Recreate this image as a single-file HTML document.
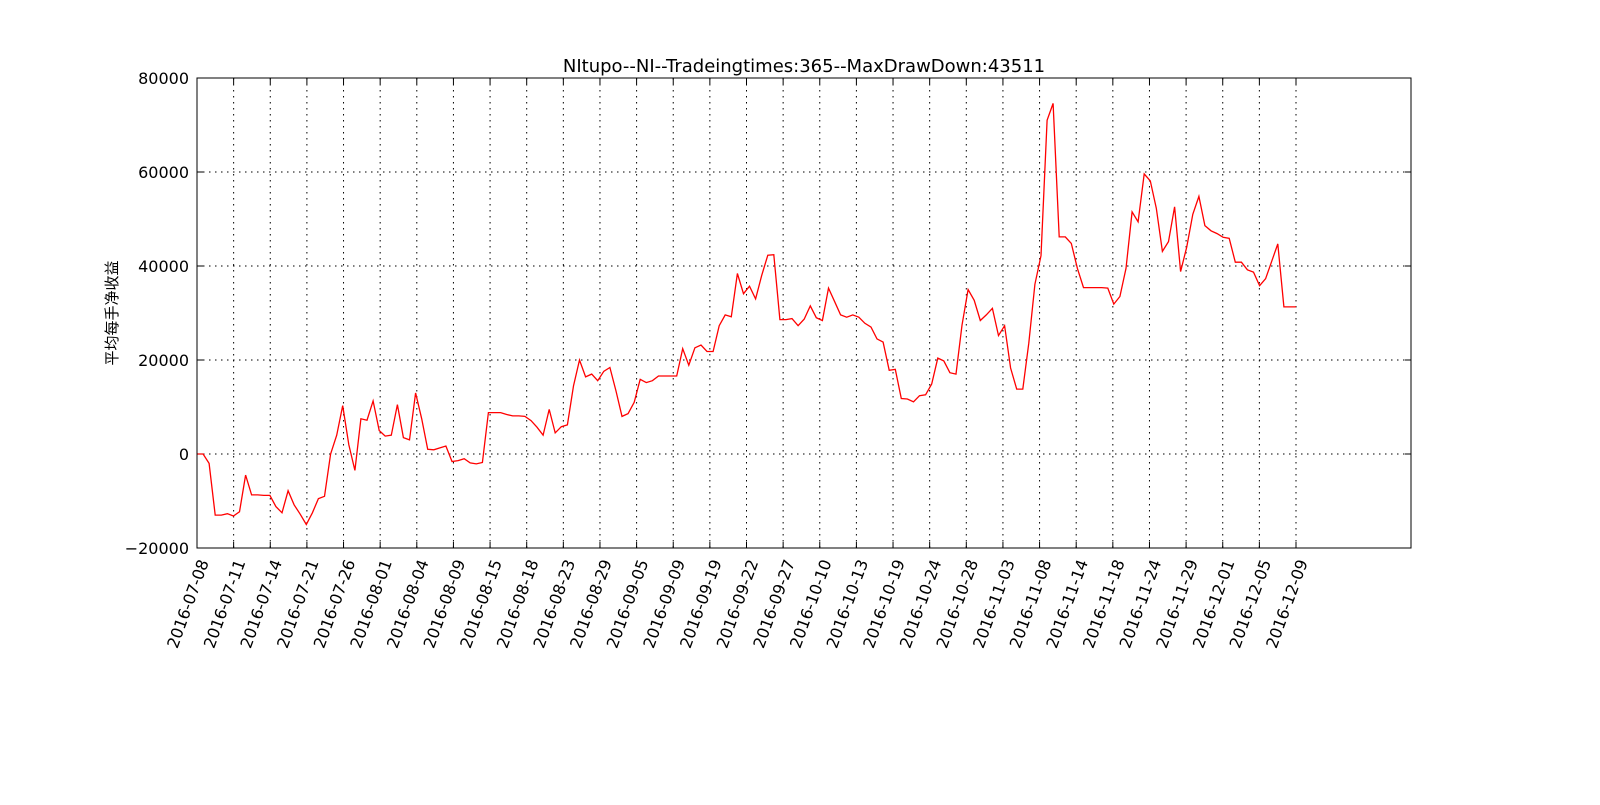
<!DOCTYPE html>
<html><head><meta charset="utf-8"><style>
body{margin:0;background:#fff;}
svg text{font-family:"DejaVu Sans","Liberation Sans","Noto Sans CJK SC",sans-serif;}
</style></head><body>
<svg id="chart" width="1600" height="800" xmlns="http://www.w3.org/2000/svg">
<rect width="1600" height="800" fill="#fff"/>
<text x="804" y="72" font-size="18" text-anchor="middle">NItupo--NI--Tradeingtimes:365--MaxDrawDown:43511</text>
<g id="grid"></g>
<g id="ticks"></g>
<polyline id="line" fill="none" stroke="#ff0000" stroke-width="1.3"/>
<rect x="197" y="78" width="1214" height="470" fill="none" stroke="#000" stroke-width="1"/>
<text transform="translate(117,313) rotate(-90)" font-size="15" text-anchor="middle" style="font-family:'Noto Sans CJK SC',sans-serif">平均每手净收益</text>
</svg>
<script>
const values = [0,0,-2,-13,-13,-12.7,-13.2,-12.3,-4.5,-8.7,-8.7,-8.8,-8.8,-11.2,-12.5,-7.8,-10.8,-12.8,-15,-12.5,-9.5,-9,0,4,10.3,2,-3.5,7.5,7.2,11.3,5,3.8,4,10.5,3.5,3,13,7.5,1,0.9,1.3,1.7,-1.6,-1.4,-1,-1.9,-2.1,-1.8,8.8,8.8,8.8,8.4,8.1,8.1,8,7.1,5.7,4,9.5,4.5,5.8,6.2,14.5,20,16.4,17,15.6,17.6,18.4,13.4,8,8.6,11,15.9,15.2,15.6,16.6,16.6,16.6,16.6,22.4,18.9,22.6,23.2,21.8,21.8,27.3,29.6,29.2,38.4,34.1,35.7,33,38,42.3,42.4,28.6,28.6,28.8,27.3,28.7,31.5,29,28.4,35.3,32.5,29.6,29.1,29.6,29.1,27.8,27,24.5,23.8,17.8,18,11.8,11.7,11.1,12.4,12.6,14.9,20.4,19.8,17.3,17,27.4,35,32.7,28.4,29.6,31,25.2,27.3,18.3,13.8,13.8,23.6,36.1,42.2,71,74.6,46.2,46.2,44.8,39.5,35.4,35.4,35.4,35.4,35.3,31.9,33.5,39.5,51.5,49.4,59.6,58.1,52.3,43.1,45.2,52.6,38.8,44,51,54.8,48.6,47.5,46.9,46.1,45.9,40.8,40.8,39.2,38.7,35.8,37.3,41,44.7,31.3,31.3,31.3];
const yTicks = [-20000,0,20000,40000,60000,80000];
const xLabels = ["2016-07-08","2016-07-11","2016-07-14","2016-07-21","2016-07-26","2016-08-01","2016-08-04","2016-08-09","2016-08-15","2016-08-18","2016-08-23","2016-08-29","2016-09-05","2016-09-09","2016-09-19","2016-09-22","2016-09-27","2016-10-10","2016-10-13","2016-10-19","2016-10-24","2016-10-28","2016-11-03","2016-11-08","2016-11-14","2016-11-18","2016-11-24","2016-11-29","2016-12-01","2016-12-05","2016-12-09"];
const X0=197,X1=1411,Y0=548,Y1=78;
const n=values.length-1;
const sx=i=>X0+i*(1099/n);
const sy=v=>Y0-(v*1000+20000)/100000*(Y0-Y1);
const NS="http://www.w3.org/2000/svg";
const grid=document.getElementById('grid'), ticks=document.getElementById('ticks');
function mk(t,a,p){const e=document.createElementNS(NS,t);for(const k in a)e.setAttribute(k,a[k]);p.appendChild(e);return e;}
yTicks.forEach(v=>{
  const y=sy(v/1000);
  const g=mk('line',{x1:X0,x2:X1,y1:y,y2:y,stroke:'#000','stroke-dasharray':'1.5,4.5','stroke-width':1},grid);
  
  
  const t=mk('text',{x:X0-8,y:y+6,'font-size':16,'text-anchor':'end'},ticks);
  t.textContent=(v<0?'\u2212':'')+Math.abs(v);
  
  
  mk('line',{x1:X0,x2:X0+6,y1:y,y2:y,stroke:'#000'},ticks);
  mk('line',{x1:X1,x2:X1-6,y1:y,y2:y,stroke:'#000'},ticks);
});
xLabels.forEach((lab,k)=>{
  const x=sx(k*n/30);
  const g=mk('line',{x1:x,x2:x,y1:Y1,y2:Y0,stroke:'#000','stroke-dasharray':'1.5,4.5','stroke-width':1},grid);
  
  
  mk('line',{x1:x,x2:x,y1:Y0,y2:Y0-6,stroke:'#000'},ticks);
  mk('line',{x1:x,x2:x,y1:Y1,y2:Y1+6,stroke:'#000'},ticks);
  const t=mk('text',{transform:`translate(${x+12},${Y0+14}) rotate(-70)`,'font-size':16,'text-anchor':'end'},ticks);
  t.textContent=lab;
  
  
});
document.getElementById('line').setAttribute('points',values.map((v,i)=>sx(i).toFixed(1)+','+sy(v).toFixed(1)).join(' '));
</script>
</body></html>
